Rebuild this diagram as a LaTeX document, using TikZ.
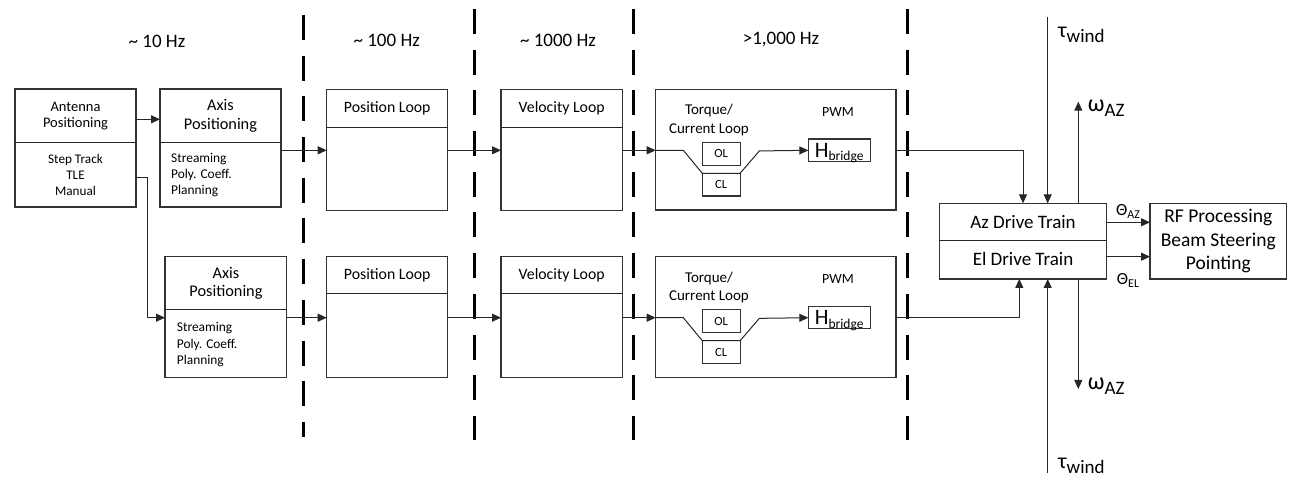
\documentclass[tikz,border=0pt]{standalone}
\usepackage{fontspec}
\setmainfont{Carlito}
\usetikzlibrary{arrows.meta}
\newcommand{\fs}[1]{\fontsize{#1}{#1}\selectfont}
\newcommand{\fsz}[2]{\fontsize{#1}{#2}\selectfont}
\begin{document}
\begin{tikzpicture}[x=1pt,y=-1pt,
  box/.style={draw=black!80, line width=1.1pt, anchor=north west, inner sep=0pt, outer sep=0pt},
  sbox/.style={draw=black!80, line width=1.1pt, inner sep=0pt, outer sep=0pt},
  lbl/.style={inner sep=0pt, align=center},
  conn/.style={draw=black!85, line width=1pt, -{Triangle[length=9pt,width=8pt]}},
  plain/.style={draw=black!85, line width=1pt},
  sepline/.style={line width=3pt, dash pattern=on 25pt off 15.7pt}
]
\useasboundingbox (0,0) rectangle (1310,502);

% separators
\draw[sepline] (303,15) -- (303,437);
\draw[sepline] (474,9) -- (474,440);
\draw[sepline] (633.7,9) -- (633.7,440);
\draw[sepline] (907.3,9) -- (907.3,440);

% frequency labels
\node[lbl, font=\fs{19}] (f1) at (157,41) {\textasciitilde{} 10 Hz};
\node[lbl, font=\fs{19}] (f2) at (386.7,40) {\textasciitilde{} 100 Hz};
\node[lbl, font=\fs{19}] (f3) at (558,40) {\textasciitilde{} 1000 Hz};
\node[lbl, font=\fs{19}] (f4) at (781,40) {>1,000 Hz};

% antenna positioning
\node[box, minimum width=121pt, minimum height=118pt] (ant) at (15,89) {};
\draw[plain] (15,142.3) -- (136,142.3);
\node[lbl, font=\fsz{14.5}{16.6}] (antT) at (75.5,116) {Antenna\\Positioning};
\node[lbl, font=\fsz{13.2}{16}] (antB) at (75.5,175) {Step Track\\TLE\\Manual};

% axis positioning top
\node[box, minimum width=121pt, minimum height=118pt] (ax1) at (160,89) {};
\draw[plain] (160,142.3) -- (281,142.3);
\node[lbl, font=\fsz{16.3}{18.3}] (ax1T) at (220.5,115.8) {Axis\\Positioning};
\node[lbl, align=left, anchor=west, font=\fsz{13.4}{16}] (ax1B) at (171,175) {Streaming\\Poly. Coeff.\\Planning};

% axis positioning bottom
\node[box, minimum width=121.7pt, minimum height=120.7pt] (ax2) at (165,256.7) {};
\draw[plain] (165,309.3) -- (286.7,309.3);
\node[lbl, font=\fsz{16.3}{18.3}] (ax2T) at (226,283.2) {Axis\\Positioning};
\node[lbl, align=left, anchor=west, font=\fsz{13.4}{16.4}] (ax2B) at (176.7,344.8) {Streaming\\Poly. Coeff.\\Planning};

% position / velocity loops
\node[box, minimum width=121pt, minimum height=121.3pt] (pl1) at (326.7,89.3) {};
\draw[plain] (326.7,127.3) -- (447.7,127.3);
\node[lbl, font=\fs{15.8}] (pl1T) at (387.2,108.3) {Position Loop};
\node[box, minimum width=121.3pt, minimum height=121.3pt] (vl1) at (501,89.3) {};
\draw[plain] (501,127.3) -- (622.3,127.3);
\node[lbl, font=\fs{15.8}] (vl1T) at (561.7,108.3) {Velocity Loop};

\node[box, minimum width=121pt, minimum height=120.7pt] (pl2) at (326.7,256.7) {};
\draw[plain] (326.7,294) -- (447.7,294);
\node[lbl, font=\fs{15.8}] (pl2T) at (387.2,275.3) {Position Loop};
\node[box, minimum width=121.3pt, minimum height=120.7pt] (vl2) at (501,256.7) {};
\draw[plain] (501,294) -- (622.3,294);
\node[lbl, font=\fs{15.8}] (vl2T) at (561.7,275.3) {Velocity Loop};

% torque blocks
\foreach \n/\dy in {1/0,2/167.4}{
  \node[box, minimum width=240.3pt, minimum height=120.7pt] (tq\n) at (655.7,89.3+\dy) {};
  \node[lbl, font=\fsz{15}{18.3}] (tqT\n) at (709,120+\dy) {Torque/\\Current Loop};
  \node[lbl, font=\fs{14}] (pwm\n) at (838,111.7+\dy) {PWM};
  \node[sbox, minimum width=37.7pt, minimum height=23pt, font=\fs{12.5}] (ol\n) at (721.2,153.8+\dy) {OL};
  \node[sbox, minimum width=37.7pt, minimum height=22.7pt, font=\fs{12.5}] (cl\n) at (721.2,184.7+\dy) {CL};
  \node[sbox, minimum width=61.7pt, minimum height=22.3pt, font=\fs{22}, text height=14pt] (hb\n) at (839.2,150.2+\dy) {H\raisebox{-3.5pt}[0pt][0pt]{\fs{13.5}bridge}};
  \coordinate (r\n) at (0,150.3+\dy);
  \draw[conn] (tq\n.west |- r\n) -- ++(27.6,0) -- (cl\n.north west) -- (cl\n.north east) -- ++(19.3,-22.4) -- (hb\n.west |- r\n);
}

% drive trains
\node[box, minimum width=167.4pt, minimum height=75.7pt] (dt) at (939.3,203.3) {};
\draw[plain] (939.3,241) -- (1106.7,241);
\node[lbl, font=\fs{19}] (az) at (1023,221.7) {Az Drive Train};
\node[lbl, font=\fs{19}] (el) at (1023,259.3) {El Drive Train};

% RF block
\node[box, minimum width=136.7pt, minimum height=75.7pt] (rf) at (1150,203.3) {};
\node[lbl, font=\fsz{19.5}{23.5}] (rfT) at (1218.3,241) {RF Processing\\Beam Steering\\Pointing};

% left connectors
\coordinate (ya) at (0,119.3);
\coordinate (bend) at (147.7,177.7);
\draw[conn] (ant.east |- ya) -- (ax1.west |- ya);
\draw[conn] (ant.east |- bend) -- (bend) |- (ax2.west |- r2);
\draw[conn] (ax1.east |- r1) -- (pl1.west |- r1);
\draw[conn] (pl1.east |- r1) -- (vl1.west |- r1);
\draw[conn] (vl1.east |- r1) -- (tq1.west |- r1);
\draw[conn] (ax2.east |- r2) -- (pl2.west |- r2);
\draw[conn] (pl2.east |- r2) -- (vl2.west |- r2);
\draw[conn] (vl2.east |- r2) -- (tq2.west |- r2);

% to drive trains
\draw[conn] (tq1.east |- r1) -| (dt.north);
\draw[conn] (tq2.east |- r2) -| ([xshift=-3.7pt]dt.south);

% disturbances
\coordinate (tw1) at (1047.7,17.3);
\coordinate (wa1) at (1078.3,101.7);
\coordinate (tw2) at (1047.7,473);
\coordinate (wa2) at (1078.3,389);
\draw[conn] (tw1) -- (tw1 |- dt.north);
\draw[conn] (wa1 |- dt.north) -- (wa1);
\draw[conn] (tw2) -- (tw2 |- dt.south);
\draw[conn] (wa2 |- dt.south) -- (wa2);

\node[lbl, anchor=base west, font=\fs{22}] (twL1) at (1058,37.7) {τ\raisebox{-4.5pt}{\fs{19}wind}};
\node[lbl, anchor=base west, font=\fs{24}] (waL1) at (1087.7,112) {ω\raisebox{-5pt}{\fs{19}AZ}};
\node[lbl, anchor=base west, font=\fs{22}] (twL2) at (1058,469) {τ\raisebox{-5pt}{\fs{19}wind}};
\node[lbl, anchor=base west, font=\fs{24}] (waL2) at (1087.7,390) {ω\raisebox{-5pt}{\fs{19}AZ}};

% theta outputs
\coordinate (thA) at (0,222.3);
\coordinate (thE) at (0,256.7);
\draw[conn] (dt.east |- thA) -- (rf.west |- thA);
\draw[conn] (dt.east |- thE) -- (rf.west |- thE);
\node[lbl, font=\fs{17}] (thAL) at (1128,211.7) {Θ\raisebox{-3pt}{\fs{12}AZ}};
\node[lbl, font=\fs{17}] (thEL) at (1128,280) {Θ\raisebox{-3pt}{\fs{12}EL}};

\end{tikzpicture}
\end{document}
